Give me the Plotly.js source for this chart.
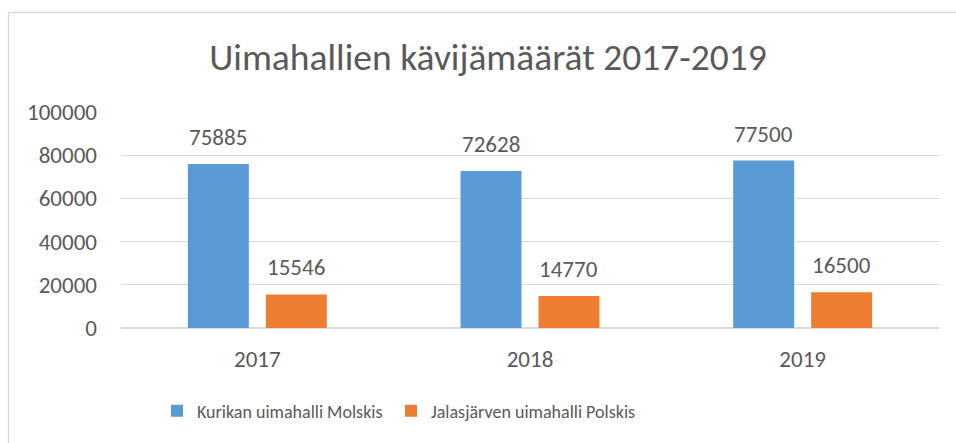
<!DOCTYPE html>
<html><head><meta charset="utf-8">
<script src="https://cdn.plot.ly/plotly-3.0.1.min.js"></script>
<style>html,body{margin:0;padding:0;background:#fff}#c{width:956px;height:443px}</style>
</head><body><div id="c"></div>
<script>
const years = ['2017', '2018', '2019'];
const molskis = [75885, 72628, 77500];
const polskis = [15546, 14770, 16500];
const seriesNames = ['Kurikan uimahalli Molskis', 'Jalasjärven uimahalli Polskis'];
const yTicks = [0, 20000, 40000, 60000, 80000, 100000];

const font = 'Calibri, Carlito, Lato, "Open Sans", sans-serif';
const txt = '#595959';
const L = 121, R = 17, T = 112, B = 115, W = 956, H = 443;
const pw = W - L - R, ph = H - T - B;
const px = v => (v - L) / pw, py = v => (H - B - v) / ph;
const bargap = 0.428, bargroupgap = 0.218;
const slot = (pw / years.length) * (1 - bargap) / 2;

const mk = (vals, name, color, leg) => ({
  type: 'bar', x: years, y: vals, name: name,
  marker: {color: color},
  hoverinfo: 'none', legend: leg
});
const labels = [];
[molskis, polskis].forEach((vals, si) => {
  vals.forEach((v, i) => labels.push({
    x: i, y: v, xref: 'x', yref: 'y', text: String(v), showarrow: false,
    xanchor: 'center', yanchor: 'bottom', yshift: 11,
    xshift: (si === 0 ? -1 : 1) * slot / 2,
    font: {size: 23, color: txt, family: font}
  }));
});
const legBase = {orientation: 'h', xanchor: 'left', y: py(411), yanchor: 'middle', font: {size: 18, color: txt, family: font}, itemwidth: 30, bgcolor: 'rgba(0,0,0,0)'};

Plotly.newPlot('c', [mk(molskis, seriesNames[0], '#5B9BD5', 'legend'), mk(polskis, seriesNames[1], '#ED7D31', 'legend2')], {
  width: W, height: H,
  margin: {l: L, r: R, t: T, b: B},
  paper_bgcolor: '#fff', plot_bgcolor: '#fff',
  font: {family: font, color: txt, size: 18},
  title: {text: 'Uimahallien kävijämäärät 2017-2019', font: {size: 37.5, color: txt, family: font}, x: 488 / W, xanchor: 'center', y: 1 - 57 / H, yanchor: 'middle'},
  barmode: 'group', bargap: bargap, bargroupgap: bargroupgap,
  xaxis: {type: 'category', range: [-0.5, years.length - 0.5], showgrid: false, showline: false, ticks: '', tickfont: {size: 23, color: txt}, ticklabelstandoff: 15},
  yaxis: {range: [0, 100000], tickvals: yTicks, ticktext: yTicks.map(String), showgrid: true, gridcolor: '#D9D9D9', gridwidth: 1.3, zeroline: true, zerolinecolor: '#D9D9D9', zerolinewidth: 1.3, showline: false, ticks: '', tickfont: {size: 23, color: txt}, ticklabelstandoff: 23},
  legend: Object.assign({}, legBase, {x: px(157)}),
  legend2: Object.assign({}, legBase, {x: px(391)}),
  showlegend: true,
  annotations: labels,
  shapes: [
    {type: 'line', xref: 'paper', yref: 'paper', x0: px(8), x1: px(960), y0: py(12.5), y1: py(12.5), line: {color: '#D9D9D9', width: 1.3}},
    {type: 'line', xref: 'paper', yref: 'paper', x0: px(8.5), x1: px(8.5), y0: py(12), y1: py(450), line: {color: '#D9D9D9', width: 1.3}}
  ]
}, {displayModeBar: false, staticPlot: true});
</script></body></html>
